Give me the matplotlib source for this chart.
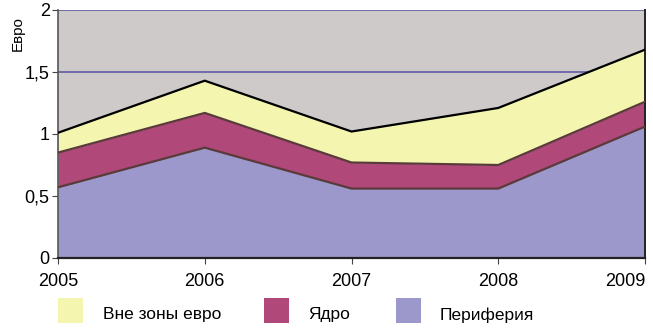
import matplotlib
matplotlib.use("Agg")
import matplotlib.pyplot as plt
from matplotlib.patches import Rectangle
import numpy as np

years = [2005, 2006, 2007, 2008, 2009]
periphery = [0.57, 0.89, 0.56, 0.56, 1.06]
core = [0.28, 0.28, 0.21, 0.19, 0.20]
outside = [0.16, 0.26, 0.25, 0.46, 0.42]
labels = ["Вне зоны евро", "Ядро", "Периферия"]
y_ticks = [0, 0.5, 1, 1.5, 2]
y_ticklabels = ["0", "0,5", "1", "1,5", "2"]

c_out = "#f4f6b0"
c_core = "#b0487a"
c_per = "#9c98cc"
c_bg = "#cdcac9"
c_grid = "#6a63a8"
c_edge = "#5a3a3a"

plt.rcParams["font.family"] = ["Liberation Sans", "DejaVu Sans"]

fig = plt.figure(figsize=(6.53, 3.28), dpi=100)
ax = fig.add_axes([58/653, 1-258/328, (645-58)/653, (258-10)/328])
ax.set_facecolor(c_bg)

x = np.array(years)
p = np.array(periphery)
c1 = p + np.array(core)
c2 = c1 + np.array(outside)

for yv in [1.5, 2.0]:
    ax.axhline(yv, color=c_grid, lw=1.3, zorder=1)

ax.fill_between(x, 0, p, color=c_per, lw=0, zorder=2)
ax.fill_between(x, p, c1, color=c_core, lw=0, zorder=2)
ax.fill_between(x, c1, c2, color=c_out, lw=0, zorder=2)
ax.plot(x, p, color=c_edge, lw=1.6, zorder=3)
ax.plot(x, c1, color=c_edge, lw=1.6, zorder=3)
ax.plot(x, c2, color="black", lw=1.6, zorder=3)

ax.set_xlim(2005, 2009)
ax.set_ylim(0, 2)
ax.set_xticks(years)
ax.set_xticklabels([str(y) for y in years], fontsize=13)
ax.get_xticklabels()[-1].set_horizontalalignment("right")
ax.set_yticks(y_ticks)
ax.set_yticklabels(y_ticklabels, fontsize=13)
ax.tick_params(axis="both", length=4, width=0.8, color="#444444", pad=2)
ax.tick_params(axis="x", pad=7)
ax.spines["top"].set_visible(False)
ax.spines["left"].set_color("#555555")
ax.spines["left"].set_linewidth(1.2)
ax.spines["bottom"].set_color("#222222")
ax.spines["bottom"].set_linewidth(1.6)
ax.spines["right"].set_color("#222222")
ax.spines["right"].set_linewidth(1.4)

fig.text(18/653, 1-34/328, "Евро", rotation=90, ha="center", va="center", fontsize=11)

# legend row
items = [(58, 103, c_out), (264, 308, c_core), (396, 440, c_per)]
for (px, tx, col), lab in zip(items, labels):
    fig.patches.append(Rectangle((px/653, 1-323/328), 25/653, 25/328,
                                 transform=fig.transFigure, color=col, lw=0))
    fig.text(tx/653, 1-315/328, lab, ha="left", va="center", fontsize=12.5)

fig.savefig("out.png", dpi=100)
